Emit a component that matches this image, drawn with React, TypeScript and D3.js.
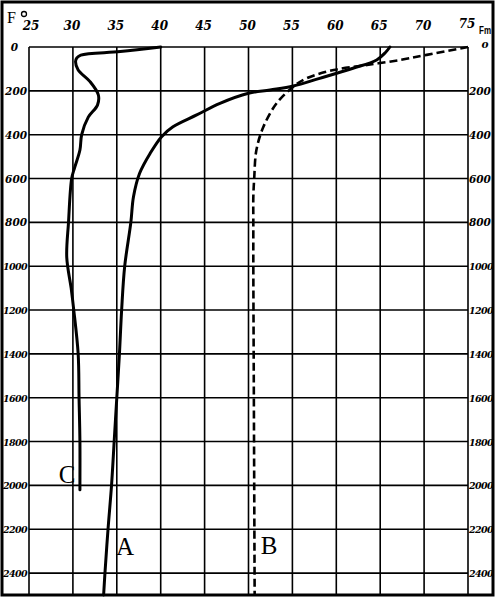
import React from "react";
import * as d3 from "d3";

// temperature ticks (F) and depth ticks (fathoms)
const tempTicks = [25, 30, 35, 40, 45, 50, 55, 60, 65, 70, 75];
const depthTicks = [0, 200, 400, 600, 800, 1000, 1200, 1400, 1600, 1800, 2000, 2200, 2400];

// curve C
const cDepth = [0, 21, 37, 50, 67, 105, 158, 219, 265, 320, 400, 470, 550, 600, 800, 960, 1100, 1200, 1400, 1600, 1800, 2000, 2020];
const cTemp = [40, 35.4, 30.9, 30.45, 30.3, 30.6, 31.95, 32.9, 32.8, 31.75, 31.0, 30.8, 30.2, 29.86, 29.5, 29.3, 29.8, 30.1, 30.6, 30.7, 30.8, 30.8, 30.8];

// curve A
const aDepth = [0, 25, 59, 97, 143, 178, 196, 211, 257, 310, 364, 409, 485, 576, 683, 800, 1000, 1200, 1400, 1600, 1800, 2000, 2200, 2400, 2500];
const aTemp = [66.1, 65.6, 64.6, 61.9, 58.1, 55.1, 52.45, 50.0, 46.75, 44.1, 41.4, 40.1, 38.8, 37.6, 36.9, 36.6, 35.9, 35.55, 35.3, 35.0, 34.7, 34.4, 34.0, 33.65, 33.5];

// curve B (dashed)
const bDepth = [0, 36, 59, 82, 105, 143, 181, 257, 364, 470, 600, 683, 800, 1000, 1500, 2000, 2500];
const bTemp = [75, 70.3, 67.3, 63.5, 59.7, 56.6, 55.1, 53.2, 51.7, 50.9, 50.65, 50.55, 50.55, 50.55, 50.6, 50.65, 50.7];

const width = 500;
const height = 600;

export default function App() {
  const x = d3.scaleLinear().domain([25, 75]).range([29, 468]);
  const y = d3.scaleLinear().domain([0, 2500]).range([47, 595]);

  const line = d3
    .line<[number, number]>()
    .x(d => x(d[0]))
    .y(d => y(d[1]))
    .curve(d3.curveCatmullRom.alpha(0.5));

  const cPath = line(cTemp.map((t, i) => [t, cDepth[i]]));
  const aPath = line(aTemp.map((t, i) => [t, aDepth[i]]));
  const bPath = line(bTemp.map((t, i) => [t, bDepth[i]]));

  const numFont = "'DejaVu Serif', serif";
  const letterFont = "'Liberation Serif', serif";

  return (
    <svg width={width} height={height} style={{ position: "absolute", left: 0, top: 0, background: "#fff" }}>
      {/* outer frame */}
      <rect x={2} y={2} width={491} height={593} fill="none" stroke="#000" strokeWidth={3} />

      {/* grid */}
      {tempTicks.map(t => (
        <line key={"v" + t} x1={x(t)} x2={x(t)} y1={y(0)} y2={y(2500)} stroke="#000" strokeWidth={1.6} />
      ))}
      {depthTicks.map(d => (
        <line key={"h" + d} x1={x(25)} x2={x(75)} y1={y(d)} y2={y(d)} stroke="#000" strokeWidth={1.6} />
      ))}

      {/* top temperature labels */}
      {tempTicks.map(t => (
        <text key={"tt" + t} x={t === 25 ? x(t) + 2 : x(t) - 1} y={t === 75 ? 28 : 30} textAnchor="middle"
          fontFamily={numFont} fontStyle="italic" fontWeight="bold" fontSize={12}>
          {t}
        </text>
      ))}
      <text x={7} y={23} fontFamily={letterFont} fontSize={16}>F</text>
      <circle cx={24} cy={14} r={2.5} fill="none" stroke="#000" strokeWidth={1.3} />
      <text x={479} y={34} fontFamily="'Liberation Sans', sans-serif" fontWeight="bold" fontSize={11}
        textLength={12} lengthAdjust="spacingAndGlyphs">Fm</text>

      {/* left depth labels */}
      {depthTicks.map(d => (
        <text key={"ld" + d} x={d === 0 ? 18 : 27} y={y(d) + 4} textAnchor="end"
          fontFamily={numFont} fontStyle="italic" fontWeight="bold" fontSize={d >= 1000 ? 9.5 : 10.5}
          letterSpacing={d >= 1000 ? -0.6 : 0}>
          {d}
        </text>
      ))}
      {/* right depth labels */}
      {depthTicks.map(d => (
        <text key={"rd" + d} x={d === 0 ? 485 : 469} y={d === 0 ? y(d) + 1 : y(d) + 4}
          textAnchor={d === 0 ? "middle" : "start"}
          fontFamily={numFont} fontStyle="italic" fontWeight="bold" fontSize={d >= 1000 ? 9.5 : 10.5}
          letterSpacing={d >= 1000 ? -0.6 : 0}>
          {d === 0 ? "o" : d}
        </text>
      ))}

      {/* curves */}
      <path d={cPath ?? ""} fill="none" stroke="#000" strokeWidth={3} strokeLinejoin="round" strokeLinecap="round" />
      <path d={aPath ?? ""} fill="none" stroke="#000" strokeWidth={3} strokeLinejoin="round" strokeLinecap="round" />
      <path d={bPath ?? ""} fill="none" stroke="#000" strokeWidth={2.6} strokeDasharray="8,4" />

      {/* curve labels */}
      <text x={67} y={483} textAnchor="middle" fontFamily={letterFont} fontSize={25}>C</text>
      <text x={125} y={555} textAnchor="middle" fontFamily={letterFont} fontSize={25}>A</text>
      <text x={269} y={554} textAnchor="middle" fontFamily={letterFont} fontSize={25}>B</text>
    </svg>
  );
}
